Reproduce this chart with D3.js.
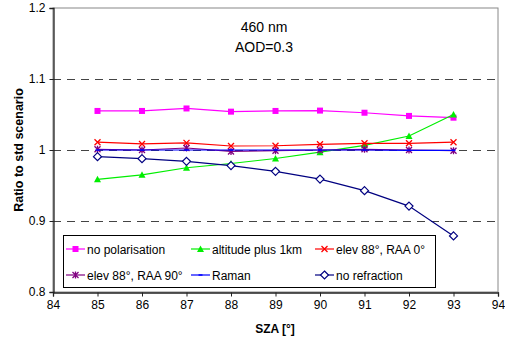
<!DOCTYPE html>
<html><head><meta charset="utf-8">
<script src="https://cdn.jsdelivr.net/npm/d3@7"></script>
<style>body{margin:0;background:#fff;} svg{display:block;font-family:"Liberation Sans",Arial,sans-serif;}</style>
</head><body><div id="c"></div>
<script>
const sza = [85, 86, 87, 88, 89, 90, 91, 92, 93];
const noPolarisation = [1.055, 1.055, 1.0585, 1.054, 1.055, 1.0555, 1.0525, 1.048, 1.0455];
const altitudePlus1km = [0.9587, 0.965, 0.975, 0.981, 0.988, 0.997, 1.0066, 1.0197, 1.050];
const elev88Raa0 = [1.011, 1.0085, 1.010, 1.0056, 1.006, 1.008, 1.0094, 1.0094, 1.011];
const elev88Raa90 = [1.001, 1.000, 1.0028, 0.998, 0.999, 1.000, 1.001, 1.000, 0.999];
const raman = [1.0, 1.0, 1.0, 1.0, 1.0, 1.0, 1.0, 0.9995, 0.9995];
const noRefraction = [0.9906, 0.9878, 0.984, 0.978, 0.970, 0.959, 0.9427, 0.921, 0.879];
const xTicks = [84, 85, 86, 87, 88, 89, 90, 91, 92, 93, 94];
const yTicks = [0.8, 0.9, 1.0, 1.1, 1.2];
const seriesNames = ["no polarisation", "altitude plus 1km", "elev 88°, RAA 0°", "elev 88°, RAA 90°", "Raman", "no refraction"];

const series = [
  {name: seriesNames[0], values: noPolarisation, color: "#ff00ff", marker: "square"},
  {name: seriesNames[1], values: altitudePlus1km, color: "#00ee00", marker: "triangle"},
  {name: seriesNames[2], values: elev88Raa0, color: "#ff0000", marker: "x"},
  {name: seriesNames[3], values: elev88Raa90, color: "#800080", marker: "star"},
  {name: seriesNames[4], values: raman, color: "#0000ff", marker: "dash"},
  {name: seriesNames[5], values: noRefraction, color: "#000080", marker: "diamond"}
];

const W = 505, H = 343;
const svg = d3.select("#c").append("svg").attr("width", W).attr("height", H);
const x = d3.scaleLinear().domain([84, 94]).range([53, 498]);
const y = d3.scaleLinear().domain([0.8, 1.2]).range([292, 8]);

// plot border
svg.append("rect").attr("x", 53).attr("y", 8).attr("width", 445).attr("height", 284)
  .attr("fill", "none").attr("stroke", "#888").attr("stroke-width", 1);

// gridlines
svg.append("g").selectAll("line").data([0.9, 1.0, 1.1]).join("line")
  .attr("x1", 53).attr("x2", 498)
  .attr("y1", d => Math.round(y(d)) + 0.5).attr("y2", d => Math.round(y(d)) + 0.5)
  .attr("stroke", "#444").attr("stroke-dasharray", "8,6");

// axes
const ya = svg.append("g").attr("transform", "translate(53.5,0)")
  .call(d3.axisLeft(y).tickValues(yTicks).tickFormat(d => d === 1 ? "1" : d3.format(".1f")(d)).tickSize(4).tickPadding(4));
const xa = svg.append("g").attr("transform", "translate(0,292.5)")
  .call(d3.axisBottom(x).tickValues(xTicks).tickFormat(d3.format("d")).tickSize(4).tickPadding(4));
[ya, xa].forEach(a => {
  a.select(".domain").attr("stroke", "#222").attr("stroke-width", 1.3);
  a.selectAll(".tick line").attr("stroke", "#222");
  a.selectAll("text").attr("font-size", 12).attr("fill", "#000").attr("font-family", "Liberation Sans, Arial, sans-serif");
});

function drawMarker(g, type, cx, cy, color) {
  if (type === "square") {
    g.append("rect").attr("x", cx - 3).attr("y", cy - 3).attr("width", 6).attr("height", 6).attr("fill", color);
  } else if (type === "triangle") {
    g.append("path").attr("d", `M${cx},${cy-3.5}L${cx+3.5},${cy+3}L${cx-3.5},${cy+3}Z`).attr("fill", color);
  } else if (type === "x") {
    g.append("path").attr("d", `M${cx-3},${cy-3}L${cx+3},${cy+3}M${cx-3},${cy+3}L${cx+3},${cy-3}`).attr("stroke", color).attr("stroke-width", 1.3);
  } else if (type === "star") {
    g.append("path").attr("d", `M${cx-3},${cy-3}L${cx+3},${cy+3}M${cx-3},${cy+3}L${cx+3},${cy-3}M${cx},${cy-3.5}L${cx},${cy+3.5}`).attr("stroke", color).attr("stroke-width", 1.3);
  } else if (type === "dash") {
    g.append("path").attr("d", `M${cx-2},${cy}L${cx+2},${cy}`).attr("stroke", color).attr("stroke-width", 1.5);
  } else if (type === "diamond") {
    g.append("path").attr("d", `M${cx},${cy-4}L${cx+4},${cy}L${cx},${cy+4}L${cx-4},${cy}Z`).attr("fill", "#fff").attr("stroke", color).attr("stroke-width", 1.2);
  }
}

const line = d3.line().x((d, i) => x(sza[i])).y(d => y(d));
series.forEach(s => {
  const g = svg.append("g");
  g.append("path").datum(s.values).attr("d", line).attr("fill", "none").attr("stroke", s.color).attr("stroke-width", 1.2);
  s.values.forEach((v, i) => drawMarker(g, s.marker, x(sza[i]), y(v), s.color));
});

// legend
svg.append("rect").attr("x", 63.5).attr("y", 235.5).attr("width", 372).attr("height", 52)
  .attr("fill", "#fff").attr("stroke", "#000").attr("stroke-width", 1);
const legPos = [[66, 249], [191, 249], [315, 249], [66, 275], [191, 275], [315, 275]];
series.forEach((s, i) => {
  const [lx, ly] = legPos[i];
  const g = svg.append("g");
  g.append("line").attr("x1", lx).attr("x2", lx + 19).attr("y1", ly).attr("y2", ly).attr("stroke", s.color).attr("stroke-width", 1.2);
  drawMarker(g, s.marker, lx + 9.5, ly, s.color);
  g.append("text").attr("x", lx + 21).attr("y", ly + 4.5).attr("font-size", 12).text(s.name);
});

// title
svg.append("text").attr("x", 264).attr("y", 32).attr("text-anchor", "middle").attr("font-size", 14).text("460 nm");
svg.append("text").attr("x", 264).attr("y", 52).attr("text-anchor", "middle").attr("font-size", 14).text("AOD=0.3");

// axis titles
svg.append("text").attr("x", 275).attr("y", 333).attr("text-anchor", "middle").attr("font-size", 12).attr("font-weight", "bold").text("SZA [°]");
svg.append("text").attr("transform", "translate(23,150) rotate(-90)").attr("text-anchor", "middle").attr("font-size", 12.5).attr("font-weight", "bold").text("Ratio to std scenario");
</script></body></html>
